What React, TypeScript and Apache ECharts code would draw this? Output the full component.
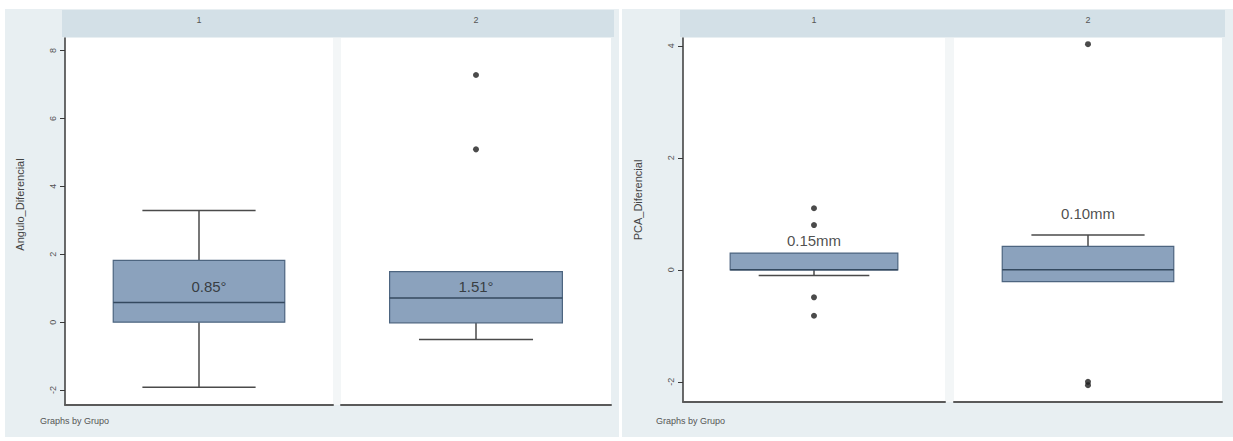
import React, { useEffect, useRef } from "react";
import * as echarts from "echarts";

// ---- data ----
const groups = ["1", "2"];
// [min whisker, q1, median, q3, max whisker]
const angleBox1 = [-1.92, 0.0, 0.58, 1.82, 3.29];
const angleBox2 = [-0.51, -0.02, 0.71, 1.49, 1.49];
const angleOutliers1: number[] = [];
const angleOutliers2 = [7.28, 5.09];
const angleLabels = ["0.85°", "1.51°"];
const angleLabelY = [1.05, 1.05];
const angleTicks = [-2, 0, 2, 4, 6, 8];

const pcaBox1 = [-0.1, 0.0, 0.0, 0.3, 0.3];
const pcaBox2 = [-0.21, -0.21, 0.0, 0.42, 0.62];
const pcaOutliers1 = [1.1, 0.8, -0.49, -0.82];
const pcaOutliers2 = [4.03, -2.0, -2.06];
const pcaLabels = ["0.15mm", "0.10mm"];
const pcaLabelY = [0.53, 1.01];
const pcaTicks = [-2, 0, 2, 4];

const FONT = "Liberation Sans, Arial, sans-serif";

function renderBox(params: any, api: any) {
  const c = api.value(0);
  const pMin = api.coord([c, api.value(1)]);
  const pQ1 = api.coord([c, api.value(2)]);
  const pMed = api.coord([c, api.value(3)]);
  const pQ3 = api.coord([c, api.value(4)]);
  const pMax = api.coord([c, api.value(5)]);
  const band = api.size([1, 0])[0];
  const bw = band * 0.64;
  const cw = bw * 0.66;
  const x = pMed[0];
  const lineStyle = { stroke: "#4a4a4a", lineWidth: 1.5 };
  const children: any[] = [];
  if (pMin[1] - pQ1[1] > 0.5) {
    children.push({ type: "line", shape: { x1: x, y1: pQ1[1], x2: x, y2: pMin[1] }, style: lineStyle });
    children.push({ type: "line", shape: { x1: x - cw / 2, y1: pMin[1], x2: x + cw / 2, y2: pMin[1] }, style: lineStyle });
  }
  if (pQ3[1] - pMax[1] > 0.5) {
    children.push({ type: "line", shape: { x1: x, y1: pQ3[1], x2: x, y2: pMax[1] }, style: lineStyle });
    children.push({ type: "line", shape: { x1: x - cw / 2, y1: pMax[1], x2: x + cw / 2, y2: pMax[1] }, style: lineStyle });
  }
  children.push({
    type: "rect",
    shape: { x: x - bw / 2, y: pQ3[1], width: bw, height: pQ1[1] - pQ3[1] },
    style: { fill: "#8ba2bd", stroke: "#4d6580", lineWidth: 1.2 },
  });
  children.push({
    type: "line",
    shape: { x1: x - bw / 2, y1: pMed[1], x2: x + bw / 2, y2: pMed[1] },
    style: { stroke: "#34495f", lineWidth: 1.5 },
  });
  return { type: "group", children };
}

export default function App() {
  const ref = useRef<HTMLDivElement>(null);
  useEffect(() => {
    document.body.style.margin = "0";
    const chart = echarts.init(ref.current!, null, { renderer: "svg" });

    const grids = [
      { left: 65, top: 38, width: 268, height: 367 },
      { left: 341, top: 38, width: 270, height: 367 },
      { left: 683, top: 38, width: 262, height: 364 },
      { left: 954, top: 38, width: 268, height: 364 },
    ].map((g) => ({ ...g, show: true, backgroundColor: "#ffffff", borderWidth: 0 }));

    const xAxes: any[] = [];
    grids.forEach((_, i) => {
      const gi = i % 2;
      xAxes.push({
        type: "category",
        gridIndex: i,
        data: [groups[gi]],
        position: "bottom",
        axisLine: { show: true, onZero: false, lineStyle: { color: "#5a5a5a", width: 2 } },
        axisTick: { show: false },
        axisLabel: { show: false },
        splitLine: { show: false },
      });
    });
    grids.forEach((_, i) => {
      const gi = i % 2;
      xAxes.push({
        type: "category",
        gridIndex: i,
        data: [groups[gi]],
        position: "top",
        axisLine: { show: false, onZero: false },
        axisTick: { show: false },
        axisLabel: { show: true, fontSize: 9, color: "#555", fontFamily: FONT, margin: 14 },
        splitLine: { show: false },
      });
    });

    const yBase = (min: number, max: number, ticks: number[], show: boolean, name: string, idx: number, shift: number) => ({
      type: "value",
      gridIndex: idx,
      min,
      max,
      show,
      name,
      nameLocation: "middle",
      nameGap: 40,
      nameRotate: 90,
      nameTextStyle: { fontSize: 11, color: "#444", fontFamily: FONT, padding: [0, 0, 0, shift] },
      axisLine: { show: true, onZero: false, lineStyle: { color: "#3a3a3a", width: 1.5 } },
      axisTick: { show: true, length: 5, customValues: ticks, lineStyle: { color: "#3a3a3a" } },
      axisLabel: { rotate: 90, customValues: ticks, fontSize: 9, color: "#555", fontFamily: FONT, margin: 8 },
      splitLine: { show: false },
    });

    const yAxes = [
      yBase(-2.44, 8.37, angleTicks, true, "Angulo_Diferencial", 0, 34),
      yBase(-2.44, 8.37, angleTicks, false, "", 1, 0),
      yBase(-2.36, 4.14, pcaTicks, true, "PCA_Diferencial", 2, 40),
      yBase(-2.36, 4.14, pcaTicks, false, "", 3, 0),
    ];

    const boxes = [angleBox1, angleBox2, pcaBox1, pcaBox2];
    const outs = [angleOutliers1, angleOutliers2, pcaOutliers1, pcaOutliers2];
    const labs = [angleLabels[0], angleLabels[1], pcaLabels[0], pcaLabels[1]];
    const labY = [angleLabelY[0], angleLabelY[1], pcaLabelY[0], pcaLabelY[1]];
    const labOffset = [[10, 0], [0, 0], [0, 0], [0, 0]];

    const series: any[] = [];
    boxes.forEach((b, i) => {
      series.push({
        type: "custom",
        xAxisIndex: i,
        yAxisIndex: i,
        renderItem: renderBox,
        encode: { x: 0, y: [1, 2, 3, 4, 5] },
        data: [[0, ...b]],
        z: 2,
      });
      series.push({
        type: "scatter",
        xAxisIndex: i,
        yAxisIndex: i,
        symbol: "circle",
        symbolSize: 6,
        itemStyle: { color: "#1e1e1e" },
        data: outs[i].map((v) => [0, v]),
        z: 3,
      });
      series.push({
        type: "scatter",
        xAxisIndex: i,
        yAxisIndex: i,
        symbolSize: 0,
        data: [{ value: [0, labY[i]], name: labs[i] }],
        label: {
          show: true,
          position: "inside",
          formatter: "{b}",
          offset: labOffset[i],
          fontSize: 15,
          color: "#222",
          fontFamily: FONT,
        },
        z: 4,
      });
    });

    chart.setOption({
      animation: false,
      backgroundColor: "#ffffff",
      graphic: [
        { type: "rect", z: -10, shape: { x: 5, y: 9, width: 614, height: 428 }, style: { fill: "#e8eff2" } },
        { type: "rect", z: -10, shape: { x: 622, y: 9, width: 611, height: 428 }, style: { fill: "#e8eff2" } },
        { type: "rect", z: -9, shape: { x: 62, y: 10, width: 552, height: 27 }, style: { fill: "#d3e0e7" } },
        { type: "rect", z: -9, shape: { x: 680, y: 10, width: 545, height: 27 }, style: { fill: "#d3e0e7" } },
        { type: "rect", z: -9, shape: { x: 333, y: 38, width: 8, height: 367 }, style: { fill: "#f3f6f7" } },
        { type: "rect", z: -9, shape: { x: 945, y: 38, width: 9, height: 364 }, style: { fill: "#f3f6f7" } },
        { type: "text", x: 40, y: 416, style: { text: "Graphs by Grupo", fontSize: 9, fill: "#555", fontFamily: FONT } },
        { type: "text", x: 656, y: 416, style: { text: "Graphs by Grupo", fontSize: 9, fill: "#555", fontFamily: FONT } },
      ],
      grid: grids,
      xAxis: xAxes,
      yAxis: yAxes,
      series,
    });
    return () => chart.dispose();
  }, []);
  return <div ref={ref} style={{ width: 1233, height: 441 }} />;
}
